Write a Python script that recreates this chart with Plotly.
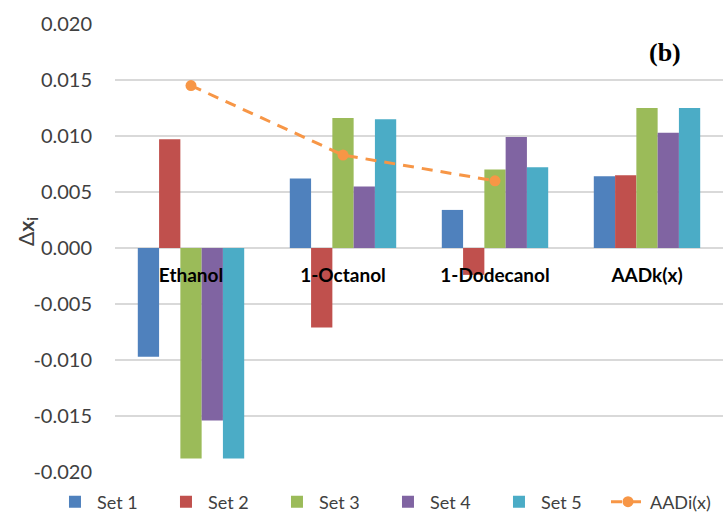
import plotly.graph_objects as go

categories = ["Ethanol", "1-Octanol", "1-Dodecanol", "AADk(x)"]
series_names = ["Set 1", "Set 2", "Set 3", "Set 4", "Set 5"]
set1 = [-0.0097, 0.0062, 0.0034, 0.0064]
set2 = [0.0097, -0.0071, -0.0024, 0.0065]
set3 = [-0.0188, 0.0116, 0.0070, 0.0125]
set4 = [-0.0154, 0.0055, 0.0099, 0.0103]
set5 = [-0.0188, 0.0115, 0.0072, 0.0125]
aadi_categories = ["Ethanol", "1-Octanol", "1-Dodecanol"]
aadi = [0.0145, 0.0083, 0.0060]
y_ticks = [-0.020, -0.015, -0.010, -0.005, 0.000, 0.005, 0.010, 0.015, 0.020]
y_tick_labels = ["-0.020", "-0.015", "-0.010", "-0.005", "0.000", "0.005", "0.010", "0.015", "0.020"]

colors = ["#4F81BD", "#C0504D", "#9BBB59", "#8064A2", "#4BACC6"]
font_family = "Lato, 'Open Sans', sans-serif"

fig = go.Figure()
for name, vals, col in zip(series_names, [set1, set2, set3, set4, set5], colors):
    fig.add_trace(go.Bar(x=categories, y=vals, name=name, marker_color=col,
                         marker_line_width=0, legend="legend"))

fig.add_trace(go.Scatter(x=aadi_categories, y=aadi, name="AADi(x)", mode="lines+markers",
                         line=dict(color="#F79646", width=3, dash="11px,8px"),
                         marker=dict(color="#F79646", size=11), legend="legend2"))

W, H = 723, 517
ml, mt, mb = 115, 24, 45
plot_h = H - mt - mb
plot_w = W - ml
leg_y = -(502 - (H - mb)) / plot_h

fig.update_layout(
    width=W, height=H,
    margin=dict(l=ml, r=0, t=mt, b=mb, pad=0, autoexpand=False),
    paper_bgcolor="white", plot_bgcolor="white",
    barmode="group", bargap=0.30, bargroupgap=0,
    font=dict(family=font_family, color="#404040"),
    showlegend=True,
    legend=dict(orientation="h", x=-0.102, xanchor="left", y=leg_y, yanchor="middle",
                font=dict(size=18, color="#404040"), entrywidth=62, entrywidthmode="pixels",
                itemwidth=34, tracegroupgap=0, bgcolor="rgba(0,0,0,0)"),
    legend2=dict(orientation="h", x=(606 - ml) / plot_w, xanchor="left", y=leg_y, yanchor="middle",
                 font=dict(size=18, color="#404040"), itemwidth=34,
                 tracegroupgap=0, bgcolor="rgba(0,0,0,0)"),
    xaxis=dict(type="category", range=[-0.5, 3.5],
               anchor="free", position=0.5, showgrid=False, zeroline=False,
               showline=False, ticks="outside", ticklen=10, tickcolor="rgba(0,0,0,0)",
               tickfont=dict(size=19, color="black", family=font_family), tickprefix="<b>",
               ticksuffix="</b>"),
    yaxis=dict(range=[-0.020, 0.020], tickvals=y_ticks, ticktext=y_tick_labels,
               showgrid=True, gridcolor="#D9D9D9", gridwidth=1.5,
               zeroline=True, zerolinecolor="#D9D9D9", zerolinewidth=1.5,
               showline=False, ticks="", ticklabelstandoff=22,
               tickfont=dict(size=20, color="#404040")),
)

fig.add_annotation(text="Δ<b>x</b><sub><b>i</b></sub>", xref="paper", yref="paper",
                   x=-(ml - 27) / plot_w, y=(H - mb - 232) / plot_h, showarrow=False,
                   textangle=-90, font=dict(size=21, color="#404040", family=font_family),
                   xanchor="center", yanchor="middle")
fig.add_annotation(text="<b>(b)</b>", xref="paper", yref="paper",
                   x=(665 - ml) / plot_w, y=(H - mb - 52) / plot_h, showarrow=False,
                   font=dict(size=26, color="black", family="'Liberation Serif', 'Times New Roman', serif"),
                   xanchor="center", yanchor="middle")

fig.write_html("out.html", config={"displayModeBar": False},
               post_script="document.body.style.margin='0';")
